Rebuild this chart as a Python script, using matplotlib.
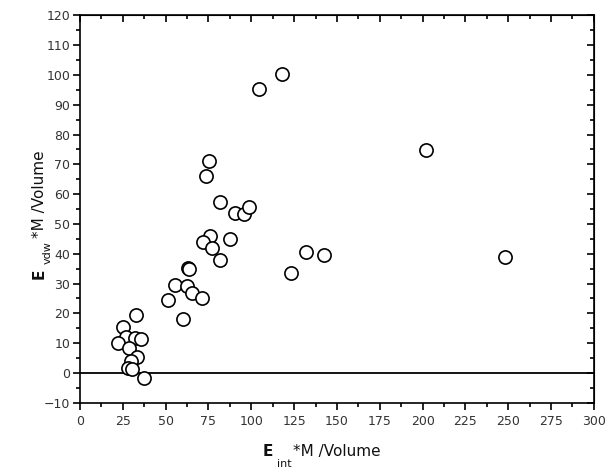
import matplotlib
matplotlib.use('Agg')
import matplotlib.pyplot as plt
import numpy as np

# E_int*M/Volume vs E_vdw*M/Volume
e_int = [118.1, 104.5, 201.8, 248.3, 131.9, 142.3, 123.2,
         75.1, 73.7, 81.7, 90.3, 95.9, 98.7, 75.9, 71.8, 87.4, 76.9, 81.5,
         63.2, 63.8, 55.5, 62.7, 65.4, 71.4, 51.6, 60.3,
         32.7, 25.3, 26.8, 32.1, 35.6, 22.4, 28.6, 33.1, 29.8, 28.2, 30.2, 37.2]
e_vdw = [100.3, 95.4, 74.8, 39.0, 40.5, 39.5, 33.7,
         71.1, 66.0, 57.4, 53.7, 53.2, 55.8, 46.1, 44.1, 44.9, 41.9, 37.9,
         35.1, 34.9, 29.5, 29.3, 26.8, 25.1, 24.4, 18.0,
         19.5, 15.4, 12.2, 11.6, 11.3, 10.2, 8.5, 5.5, 4.0, 1.6, 1.2, -1.6]

plt.rcParams['font.family'] = ['DejaVu Sans']

W, H = 606, 468
fig = plt.figure(figsize=(W / 100, H / 100), dpi=100)
ax = fig.add_axes([0.132, 0.1395, 0.848, 0.8275])

ax.axhline(0, color='black', lw=1.3, zorder=1)
ax.plot(e_int, e_vdw, 'o', ms=9.5, mfc='white', mec='black', mew=1.2,
        ls='none', zorder=3)

ax.set_xlim(0, 300)
ax.set_ylim(-10, 120)
ax.set_xticks(np.arange(0, 301, 25))
ax.set_xticks(np.arange(0, 301, 12.5), minor=True)
ax.set_yticks(np.arange(-10, 121, 10))
ax.set_yticks(np.arange(-10, 121, 5), minor=True)

for s in ax.spines.values():
    s.set_linewidth(1.2)

ax.tick_params(which='both', direction='out', labelsize=9, color='black',
               labelcolor='#333333', width=1.2)
ax.tick_params(axis='x', pad=4)
ax.tick_params(axis='y', pad=2)
ax.tick_params(which='major', length=5)
ax.tick_params(which='minor', length=3)

# inward ticks on the top and right edges
axt = ax.secondary_xaxis('top')
axt.set_xticks(np.arange(0, 301, 25))
axt.set_xticks(np.arange(0, 301, 12.5), minor=True)
axt.tick_params(which='both', direction='in', labeltop=False, width=1.2)
axt.tick_params(which='major', length=5)
axt.tick_params(which='minor', length=3)
axr = ax.secondary_yaxis('right')
axr.set_yticks(np.arange(-10, 121, 10))
axr.set_yticks(np.arange(-10, 121, 5), minor=True)
axr.tick_params(which='both', direction='in', labelright=False, width=1.2)
axr.tick_params(which='major', length=5)
axr.tick_params(which='minor', length=3)


def put(px, py, s, size, rot=0, weight='normal'):
    fig.text(px / W, 1 - py / H, s, fontsize=size, rotation=rot,
             rotation_mode='anchor', ha='left', va='baseline',
             weight=weight, color='#111111')


# x label: E_int *M /Volume
put(263, 456, 'E', 11, weight='bold')
put(277, 467, 'int', 8)
put(293, 456, '*M /Volume', 11)

# y label: E_vdw *M /Volume
put(44, 279, 'E', 11, 90, weight='bold')
put(51, 264, 'vdw', 8, 90)
put(44, 238, '*M /Volume', 11, 90)

fig.savefig('out.png', dpi=100)
